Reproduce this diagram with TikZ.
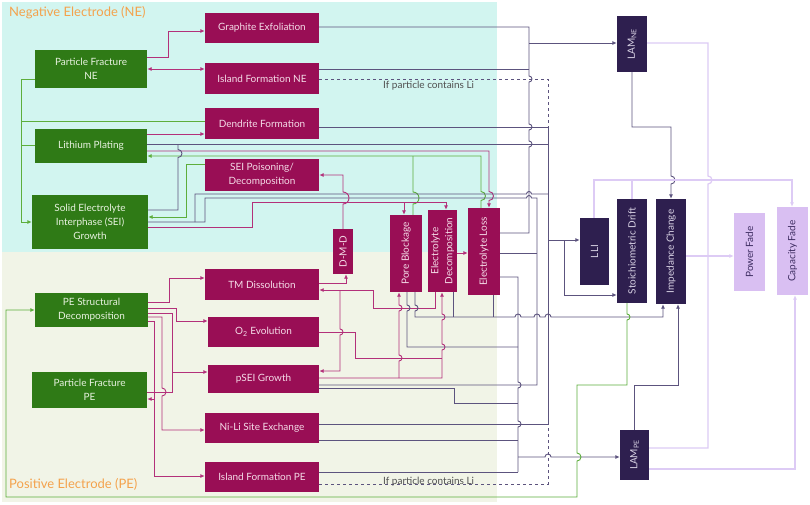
\documentclass[tikz,border=0pt]{standalone}
\usepackage{fontspec}
\setmainfont{Lato}
\usepackage{graphicx}
\usetikzlibrary{arrows.meta}
\definecolor{bgne}{HTML}{D2F5F0}
\definecolor{bgpe}{HTML}{F1F4E7}
\definecolor{gbx}{HTML}{2F7A16}
\definecolor{mbx}{HTML}{990E55}
\definecolor{pbx}{HTML}{2E1F4F}
\definecolor{lbx}{HTML}{D9BFF2}
\definecolor{gln}{HTML}{5DAE3C}
\definecolor{mln}{HTML}{B3307A}
\definecolor{pln}{HTML}{5C537E}
\definecolor{lln}{HTML}{DDCBF5}
\definecolor{orng}{HTML}{F4A24C}
\definecolor{gtx}{HTML}{E8F2E0}
\definecolor{mtx}{HTML}{F5DCE8}
\definecolor{ptx}{HTML}{D8D2E4}
\definecolor{ltx}{HTML}{3E2D62}
\definecolor{lbltx}{HTML}{505050}
\newcommand\bx[7]{\node[#6, minimum width={#4-#2}, minimum height={#5-#3}] (#1) at ({(#2+#4)/2},{(#3+#5)/2}) {#7};}
\newcommand\hopR[3]{-- ({#1-#3},#2) arc[start angle=180,end angle=360,radius=#3]}
\newcommand\hopD[3]{-- (#1,{#2-#3}) arc[start angle=-90,end angle=90,radius=#3]}
\newcommand\hopU[3]{-- (#1,{#2+#3}) arc[start angle=90,end angle=-90,radius=#3]}
\begin{document}
\begin{tikzpicture}[x=1pt,y=-1pt,
  box/.style={draw=none, inner sep=0pt, align=center, font=\fontsize{10}{14}\selectfont},
  gbox/.style={box, fill=gbx, text=gtx},
  mbox/.style={box, fill=mbx, text=mtx},
  pbox/.style={box, fill=pbx, text=ptx},
  lbox/.style={box, fill=lbx, text=ltx},
  ln/.style={line width=0.9pt},
  mg/.style={ln, draw=mln},
  gr/.style={ln, draw=gln},
  pu/.style={ln, draw=pln},
  lv/.style={line width=1.2pt, draw=lln},
  arr/.style={-{Latex[length=4.5pt,width=4pt]}},
  darr/.style={{Latex[length=4.5pt,width=4pt]}-{Latex[length=4.5pt,width=4pt]}},
  lbl/.style={inner sep=0pt, text=lbltx, font=\fontsize{10}{12}\selectfont},
  ttl/.style={inner sep=0pt, anchor=west, text=orng, font=\fontsize{13}{15}\selectfont}]
\useasboundingbox (0,0) rectangle (810,504);
\fill[white] (0,0) rectangle (810,504);
\fill[bgne] (2,2) rectangle (497,252);
\fill[bgpe] (2,252) rectangle (497,502);
\node[ttl] (tne) at (9,13) {Negative Electrode (NE)};
\node[ttl] (tpe) at (9,484) {Positive Electrode (PE)};
% boxes
\bx{pfne}{35}{50}{147}{88}{gbox}{Particle Fracture\\NE}
\bx{lp}{35}{129}{147}{163}{gbox}{Lithium Plating}
\bx{sei}{32}{195}{148}{249}{gbox}{Solid Electrolyte\\Interphase (SEI)\\Growth}
\bx{pes}{35}{293}{148}{327}{gbox}{PE Structural\\Decomposition}
\bx{pfpe}{32}{372}{147}{408}{gbox}{Particle Fracture\\PE}
\bx{ge}{205}{13}{319}{43}{mbox}{Graphite Exfoliation}
\bx{ifne}{205}{63}{319}{94}{mbox}{Island Formation NE}
\bx{df}{205}{108}{319}{139}{mbox}{Dendrite Formation}
\bx{seip}{205}{159}{319}{191}{mbox}{SEI Poisoning/\\Decomposition}
\bx{tm}{205}{269}{319}{300}{mbox}{TM Dissolution}
\bx{oe}{208}{317}{319}{347}{mbox}{O\textsubscript{2} Evolution}
\bx{psei}{208}{365}{319}{393}{mbox}{pSEI Growth}
\bx{nili}{205}{413}{319}{443}{mbox}{Ni-Li Site Exchange}
\bx{ifpe}{205}{462}{319}{492}{mbox}{Island Formation PE}
\bx{dmd}{333}{229}{353}{274}{mbox}{\rotatebox{90}{D-M-D}}
\bx{pbk}{390}{215}{422}{292}{mbox}{\rotatebox{90}{Pore Blockage}}
\bx{ed}{428}{210}{457}{292}{mbox}{\rotatebox{90}{\begin{tabular}{@{}c@{}}Electrolyte\\Decomposition\end{tabular}}}
\bx{el}{468}{208}{500}{295}{mbox}{\rotatebox{90}{Electrolyte Loss}}
\bx{lamne}{617}{16}{647}{72}{pbox}{\rotatebox{90}{LAM\textsubscript{NE}}}
\bx{lli}{580}{218}{609}{285}{pbox}{\rotatebox{90}{LLI}}
\bx{sd}{617}{199}{647}{303}{pbox}{\rotatebox{90}{Stoichiometric Drift}}
\bx{ic}{656}{199}{686}{304}{pbox}{\rotatebox{90}{Impedance Change}}
\bx{lampe}{620}{430}{649}{480}{pbox}{\rotatebox{90}{LAM\textsubscript{PE}}}
\bx{pf}{734}{213}{765}{291}{lbox}{\rotatebox{90}{Power Fade}}
\bx{cf}{777}{207}{808}{295}{lbox}{\rotatebox{90}{Capacity Fade}}
% NE connectors
\draw[mg,arr] (pfne.east|-0,57) -| (168,31) -- (ge.west|-0,31);
\draw[mg,darr] (pfne.east|-0,69) -- (ifne.west|-0,69);
\draw[gr,arr] (pfne.west|-0,79) -| (21,222) -- (sei.west|-0,222);
\draw[gr] (21,121) -- (df.west|-0,121);
\draw[gr] (21,145) -- (lp.west|-0,145);
\draw[mg,arr] (lp.east|-0,134) -- (df.west|-0,134);
\draw[pu] (lp.east|-0,144) -- (548,144);
\draw[mg,arr] (lp.east|-0,151) -- (489,151) \hopD{489}{196}{4.5} -- (el.north-|489,0);
\draw[gr,arr] (el.north-|481,0) \hopU{481}{196}{4.5} -- (481,156) -- (lp.east|-0,156);
\draw[gr] (pbk.north-|413,0) \hopU{413}{198}{6} -- (413,156);
\draw[pu] (df.east|-0,127) -- (548,127);
\draw[pu] (ge.east|-0,27) -- (529,27) \hopD{529}{79}{3} \hopD{529}{127}{3} \hopD{529}{144}{3} -- (529,233) -- (el.east|-0,233);
\draw[pu,arr] (529,43) -- (lamne.west|-0,43);
\draw[pu] (ifne.east|-0,69) -- (529,69);
\draw[pu,dashed] (ifne.east|-0,79) -- (548,79) -- (548,127);
\node[lbl, anchor=west] (cne) at (383,86) {If particle contains Li};
\draw[pu] (sei.east|-0,210) -- (178,210) \hopU{178}{153.5}{4} -- (178,144);
\draw[gr,arr] (seip.west|-0,164) -| (186,217) -- (sei.east|-0,217);
\draw[pu] (sei.east|-0,222) -| (205,198) \hopR{529}{198}{2.5} -| (537,385) -- (psei.east|-0,385);
\draw[pu] (195,222) -- (195,194) \hopR{529}{194}{2.5} -- (548,194);
\draw[mg,arr] (sei.east|-0,227) -| (252,202) -- (446,202) -- (ed.north-|446,0);
\draw[mg,arr] (404,202) -- (pbk.north-|404,0);
\draw[mg,arr] (dmd.north-|343,0) \hopU{343}{198}{6} -- (343,175) -- (seip.east|-0,175);
% PE magenta
\draw[mg,arr] (tm.east|-0,283) -| (dmd.south-|346,0);
\draw[mg,arr] (ed.south-|435,0) -- (435,308) -- (373,308) -- (373,290) -- (tm.east|-0,290);
\draw[mg,arr] (340,290) \hopD{340}{332}{3} -- (340,371) -- (psei.east|-0,371);
\draw[mg] (oe.east|-0,332) -| (355,358) -- (442,358);
\draw[mg,arr] (psei.east|-0,378) -- (442,378) \hopU{442}{347}{3} \hopU{442}{317}{3} -- (ed.south-|442,0);
\draw[mg,arr] (399,378) \hopU{399}{358}{3} \hopU{399}{308}{3} -- (pbk.south-|399,0);
\draw[mg,arr] (ed.east|-0,253) -- (el.west|-0,253);
\draw[mg,arr] (pes.east|-0,302) -| (169,278) -- (tm.west|-0,278);
\draw[mg,arr] (pes.east|-0,308) -| (176,321) -- (oe.west|-0,321);
\draw[mg,arr] (pes.east|-0,313) -| (172,372) -- (psei.west|-0,372);
\draw[mg] (pfpe.east|-0,392) -- (172,392) -- (172,372);
\draw[mg,arr] (pes.east|-0,317) -- (162,317) \hopD{162}{392}{4} -- (162,430) -- (nili.west|-0,430);
\draw[mg] (pes.east|-0,321) -- (154,321) -- (154,476);
\draw[mg,arr] (154,399) -- (pfpe.east|-0,399);
\draw[mg,arr] (154,476) -- (ifpe.west|-0,476);
% PE purple
\draw[pu] (pbk.south-|407,0) \hopD{407}{308}{3} -- (407,347) -- (518,347);
\draw[pu,arr] (pbk.south-|415,0) \hopD{415}{308}{3} -- (415,317) \hopR{518}{317}{3} \hopR{537}{317}{3} \hopR{548}{317}{3} -- (663,317) -- (ic.south-|663,0);
\draw[pu] (ed.south-|453,0) -- (453,317);
\draw[pu] (el.south-|493,0) -- (493,317);
\draw[pu] (el.east|-0,253) -- (537,253);
\draw[pu] (el.east|-0,277) -- (518,277) \hopD{518}{385}{3} \hopD{518}{424}{3} -- (518,472);
\draw[pu,arr] (518,457) \hopR{548}{457}{3} -- (lampe.west|-0,457);
\draw[pu] (psei.east|-0,388) -| (454,403) -- (518,403);
\draw[pu] (nili.east|-0,424) -- (548,424);
\draw[pu] (nili.east|-0,440) -- (518,440);
\draw[pu] (ifpe.east|-0,472) -- (518,472);
\draw[pu,dashed] (ifpe.east|-0,484) -- (548,484) -- (548,424);
\node[lbl, anchor=base west] (cpe) at (383,484) {If particle contains Li};
% right side
\draw[pu] (548,127) -- (548,424);
\draw[pu,arr] (548,240) -- (lli.west|-0,240);
\draw[pu,arr] (564,240) -- (564,295) -- (sd.west|-0,295);
\draw[pu,arr] (lamne.south-|632,0) -- (632,127) -- (671,127) \hopD{671}{180}{4} -- (ic.north-|671,0);
\draw[pu,arr] (lampe.north-|634,0) -- (634,385) -- (678,385) -- (ic.south-|678,0);
\draw[gr,arr] (sd.south-|627,0) \hopD{627}{317}{3} -- (627,385) -- (577,385) \hopD{577}{457}{4} -- (577,497) -- (6,497) -- (6,310) -- (pes.west|-0,310);
\draw[lv] (lamne.east|-0,43) -- (708,43) \hopD{708}{180}{4} -- (708,448) -- (lampe.east|-0,448);
\draw[lv,arr] (lampe.east|-0,469) -| (cf.south-|795,0);
\draw[lv,arr] (lli.north-|594,0) -- (594,180) -- (792,180) -- (cf.north-|792,0);
\draw[lv] (sd.north-|632,0) -- (632,180);
\draw[lv,arr] (ic.east|-0,256) -- (pf.west|-0,256);
\end{tikzpicture}
\end{document}
